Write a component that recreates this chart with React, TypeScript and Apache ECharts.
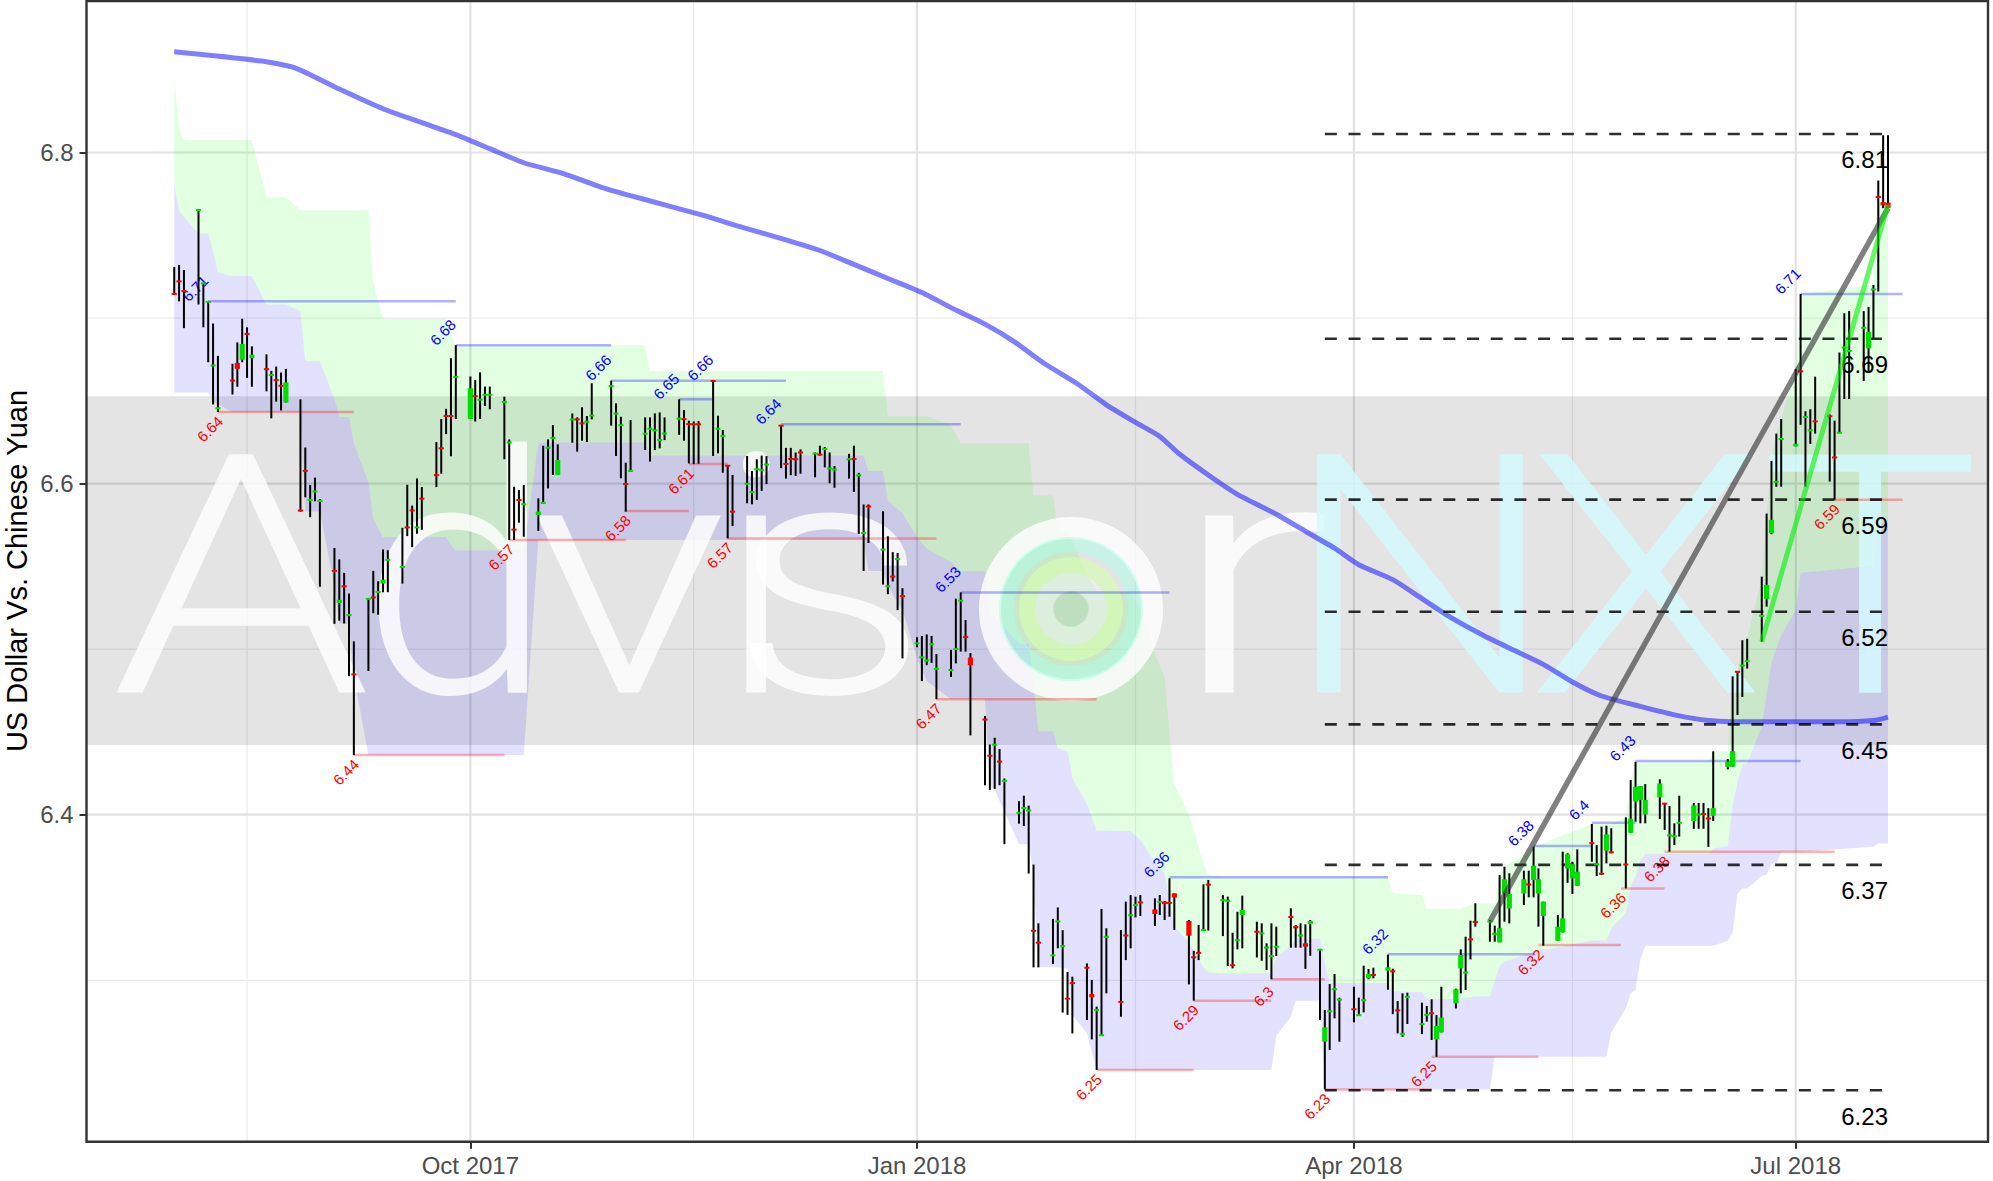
import React, { useEffect, useRef } from 'react';
import * as echarts from 'echarts';

const DAY = 86400000;
const FONT = '"Liberation Sans", Arial, Helvetica, sans-serif';

// ---- trading calendar (weekdays) ----
const FIRST_TRADING_DAY = '2017-08-02';
const LAST_WEEKDAY = '2018-07-20';
const EXTRA_DAYS = ['2018-07-21'];
// the reference plots summer-time rows one day early
const WINTER_START = '2017-10-29';
const WINTER_END = '2018-03-25';

// ---- OHLC (one line per week) ----
const OPEN = [
  6.7150, 6.7225, 6.7168,
  6.7650, 6.7205, 6.7095, 6.6710, 6.6452,
  6.6625, 6.6729, 6.6748, 6.6908, 6.6757,
  6.6694, 6.6652, 6.6630, 6.6594, 6.6490,
  6.5840, 6.6080, 6.5900, 6.5950, 6.5892,
  6.5476, 6.5279, 6.5382, 6.5203, 6.4850,
  6.5300, 6.5315, 6.5343, 6.5396, 6.5537,
  6.5494, 6.5738, 6.5840, 6.5733, 6.5912,
  6.6053, 6.6215, 6.6410, 6.6412, 6.6642,
  6.6390, 6.6530, 6.6505, 6.6535, 6.6535,
  6.6487, 6.6246, 6.5728, 6.5903, 6.5874,
  6.5811, 6.5881, 6.6215, 6.6274, 6.6052,
  6.6386, 6.6390, 6.6366, 6.6372, 6.6410,
  6.6588, 6.6422, 6.6352, 6.5998, 6.6076,
  6.6300, 6.6330, 6.6320, 6.6262, 6.6302,
  6.6392, 6.6390, 6.6362, 6.6360, 6.6361,
  6.6622, 6.6330, 6.6286, 6.6110, 6.5832,
  6.5998, 6.5948, 6.6086, 6.6082, 6.6114,
  6.6352, 6.6120, 6.6150, 6.6149, 6.6190,
  6.6180, 6.6176, 6.6208, 6.6090, 6.6084,
  6.6146, 6.6150, 6.6049, 6.5700, 6.5864,
  6.5600, 6.5379, 6.5440, 6.5543, 6.5322,
  6.5030, 6.4950, 6.4925, 6.5029, 6.4880,
  6.4873, 6.5000, 6.5292, 6.5074, 6.4949,
  6.4577, 6.4358, 6.4422, 6.4322, 6.4203,
  6.4010, 6.4039, 6.4025, 6.3300, 6.3228,
  6.3150, 6.3355, 6.3205, 6.2890, 6.2985,
  6.3078, 6.2917, 6.2817, 6.2665, 6.3261,
  6.2871, 6.3273, 6.3392, 6.3453, 6.3472,
  6.3428, 6.3473, 6.3475, 6.3470, 6.3525,
  6.3358, 6.3140, 6.3168, 6.3302, 6.3580,
  6.3483, 6.3478, 6.3092, 6.3241, 6.3394,
  6.3296, 6.3282, 6.3196, 6.3145, 6.3201,
  6.3384, 6.3328, 6.3270, 6.3223, 6.3340,
  6.3180, 6.2629, 6.2810, 6.2945, 6.2882,
  6.2830, 6.2788, 6.2878, 6.3012, 6.3034,
  6.3058, 6.3056, 6.2820, 6.2675, 6.2899,
  6.2734, 6.2790, 6.2802, 6.2643, 6.2685,
  6.2861, 6.3072, 6.3046, 6.3249, 6.3354,
  6.3354, 6.3280, 6.3229, 6.3525, 6.3434,
  6.3525, 6.3580, 6.3606, 6.3525, 6.3388,
  6.3239, 6.3289, 6.3676, 6.3616, 6.3571,
  6.3830, 6.3700, 6.3646, 6.3783, 6.3775,
  6.3700, 6.3891, 6.4079, 6.4089, 6.4002,
  6.4105, 6.4069, 6.3874, 6.3869, 6.3950,
  6.3962, 6.4000, 6.4006, 6.3980, 6.3993,
  6.4290, 6.4290, 6.4867, 6.4900, 6.4925,
  6.5200, 6.5304, 6.5700, 6.6009, 6.6268,
  6.6225, 6.6680, 6.6400, 6.6322, 6.6377,
  6.6408, 6.6160, 6.6305, 6.6820, 6.6800,
  6.6940, 6.6817, 6.7170, 6.7735, 6.7700, 6.7697,
];
const HIGH = [
  6.7309, 6.7321, 6.7290,
  6.7655, 6.7213, 6.7101, 6.6967, 6.6772,
  6.6724, 6.6853, 6.6996, 6.6944, 6.6829,
  6.6781, 6.6681, 6.6707, 6.6671, 6.6693,
  6.6509, 6.6218, 6.5991, 6.6036, 6.5907,
  6.5611, 6.5542, 6.5461, 6.5336, 6.5047,
  6.5308, 6.5473, 6.5410, 6.5602, 6.5597,
  6.5733, 6.5993, 6.5867, 6.6031, 6.5979,
  6.6251, 6.6390, 6.6452, 6.6757, 6.6836,
  6.6647, 6.6626, 6.6672, 6.6586, 6.6586,
  6.6525, 6.6267, 6.5981, 6.5961, 6.5991,
  6.5911, 6.6229, 6.6267, 6.6354, 6.6237,
  6.6424, 6.6400, 6.6461, 6.6408, 6.6606,
  6.6622, 6.6485, 6.6404, 6.6126, 6.6384,
  6.6400, 6.6400, 6.6424, 6.6430, 6.6400,
  6.6509, 6.6445, 6.6380, 6.6376, 6.6378,
  6.6622, 6.6410, 6.6324, 6.6110, 6.6052,
  6.6167, 6.6076, 6.6147, 6.6169, 6.6166,
  6.6352, 6.6216, 6.6216, 6.6188, 6.6207,
  6.6188, 6.6229, 6.6221, 6.6188, 6.6106,
  6.6180, 6.6229, 6.6065, 6.5874, 6.5874,
  6.5833, 6.5682, 6.5586, 6.5581, 6.5368,
  6.5072, 6.5080, 6.5089, 6.5080, 6.4971,
  6.4996, 6.5305, 6.5343, 6.5176, 6.4976,
  6.4596, 6.4424, 6.4465, 6.4397, 6.4219,
  6.4082, 6.4115, 6.4055, 6.3699, 6.3344,
  6.3371, 6.3440, 6.3303, 6.3050, 6.3022,
  6.3102, 6.3002, 6.2841, 6.3431, 6.3314,
  6.3304, 6.3475, 6.3515, 6.3505, 6.3515,
  6.3495, 6.3515, 6.3479, 6.3616, 6.3525,
  6.3364, 6.3178, 6.3334, 6.3580, 6.3606,
  6.3515, 6.3505, 6.3287, 6.3414, 6.3511,
  6.3354, 6.3344, 6.3223, 6.3344, 6.3324,
  6.3435, 6.3334, 6.3344, 6.3338, 6.3364,
  6.3189, 6.2820, 6.2977, 6.3038, 6.2895,
  6.2961, 6.2895, 6.3088, 6.3068, 6.3076,
  6.3155, 6.3070, 6.2875, 6.2921, 6.2925,
  6.2865, 6.2845, 6.2885, 6.2790, 6.2961,
  6.2949, 6.3187, 6.3263, 6.3360, 6.3465,
  6.3364, 6.3330, 6.3636, 6.3686, 6.3646,
  6.3662, 6.3662, 6.3807, 6.3676, 6.3475,
  6.3394, 6.3777, 6.3767, 6.3716, 6.3791,
  6.3944, 6.3817, 6.3928, 6.3934, 6.3918,
  6.3984, 6.4210, 6.4320, 6.4173, 6.4185,
  6.4214, 6.4069, 6.4053, 6.3948, 6.4115,
  6.4071, 6.4071, 6.4071, 6.4040, 6.4383,
  6.4336, 6.4836, 6.4867, 6.5054, 6.5063,
  6.5438, 6.5819, 6.6137, 6.6302, 6.6390,
  6.6693, 6.7145, 6.6437, 6.6449, 6.6646,
  6.6418, 6.6380, 6.6792, 6.7029, 6.7042,
  6.7042, 6.7067, 6.7200, 6.7831, 6.8104, 6.8104,
];
const LOW = [
  6.7142, 6.7101, 6.6939,
  6.7082, 6.6944, 6.6733, 6.6478, 6.6433,
  6.6538, 6.6585, 6.6733, 6.6638, 6.6585,
  6.6557, 6.6394, 6.6495, 6.6442, 6.6490,
  6.5831, 6.5917, 6.5797, 6.5893, 6.5377,
  6.5153, 6.5172, 6.5155, 6.4837, 6.4360,
  6.4868, 6.5217, 6.5208, 6.5344, 6.5344,
  6.5396, 6.5683, 6.5616, 6.5697, 6.5721,
  6.5979, 6.6060, 6.6299, 6.6165, 6.6390,
  6.6390, 6.6375, 6.6390, 6.6469, 6.6449,
  6.6147, 6.5659, 6.5659, 6.5764, 6.5679,
  6.5714, 6.5881, 6.5971, 6.6052, 6.6052,
  6.6247, 6.6193, 6.6259, 6.6251, 6.6388,
  6.6350, 6.6167, 6.6032, 6.5830, 6.6072,
  6.6203, 6.6133, 6.6203, 6.6213, 6.6263,
  6.6294, 6.6259, 6.6122, 6.6118, 6.6120,
  6.6167, 6.6183, 6.6066, 6.5669, 6.5744,
  6.5881, 6.5875, 6.5901, 6.5956, 6.5997,
  6.6093, 6.6030, 6.6051, 6.6046, 6.6060,
  6.6038, 6.6169, 6.6098, 6.6002, 6.5975,
  6.6030, 6.5950, 6.5696, 6.5472, 6.5641,
  6.5390, 6.5332, 6.5409, 6.5236, 6.4944,
  6.5012, 6.4807, 6.4903, 6.4917, 6.4698,
  6.4832, 6.4914, 6.4985, 6.4985, 6.4479,
  6.4178, 6.4150, 6.4156, 6.4178, 6.3822,
  6.3946, 6.3932, 6.3645, 6.3078, 6.3078,
  6.3098, 6.3193, 6.2805, 6.2791, 6.2679,
  6.2760, 6.2643, 6.2458, 6.2665, 6.2921,
  6.2780, 6.3122, 6.3193, 6.3380, 6.3388,
  6.3328, 6.3394, 6.3364, 6.3384, 6.3304,
  6.2975, 6.2877, 6.3122, 6.3300, 6.3300,
  6.3267, 6.3086, 6.3072, 6.3187, 6.3193,
  6.3138, 6.3118, 6.3062, 6.3006, 6.3147,
  6.3197, 6.3197, 6.3197, 6.3068, 6.3148,
  6.2760, 6.2341, 6.2579, 6.2770, 6.2629,
  6.2746, 6.2788, 6.2806, 6.3006, 6.3012,
  6.2943, 6.2795, 6.2679, 6.2657, 6.2736,
  6.2675, 6.2750, 6.2639, 6.2538, 6.2685,
  6.2830, 6.2921, 6.2941, 6.3126, 6.3324,
  6.3233, 6.3233, 6.3229, 6.3354, 6.3344,
  6.3455, 6.3501, 6.3501, 6.3324, 6.3209,
  6.3239, 6.3289, 6.3589, 6.3521, 6.3571,
  6.3716, 6.3630, 6.3636, 6.3706, 6.3767,
  6.3555, 6.3891, 6.3958, 6.3948, 6.3948,
  6.3974, 6.3908, 6.3777, 6.3817, 6.3868,
  6.3915, 6.3915, 6.3915, 6.3806, 6.3962,
  6.4274, 6.4290, 6.4602, 6.4711, 6.4883,
  6.5045, 6.5257, 6.5694, 6.5981, 6.5981,
  6.6225, 6.6355, 6.5981, 6.6240, 6.6302,
  6.6012, 6.5903, 6.6305, 6.6511, 6.6511,
  6.6620, 6.6677, 6.6880, 6.7160, 6.7664, 6.7664,
];
const CLOSE = [
  6.7142, 6.7218, 6.7158,
  6.7655, 6.7213, 6.7101, 6.6717, 6.6459,
  6.6620, 6.6693, 6.6843, 6.6900, 6.6779,
  6.6688, 6.6660, 6.6622, 6.6588, 6.6612,
  6.5834, 6.6074, 6.5902, 6.5955, 6.5898,
  6.5470, 6.5298, 6.5377, 6.5208, 6.4845,
  6.5308, 6.5310, 6.5348, 6.5420, 6.5542,
  6.5499, 6.5733, 6.5836, 6.5738, 6.5907,
  6.6050, 6.6211, 6.6406, 6.6404, 6.6647,
  6.6576, 6.6526, 6.6509, 6.6537, 6.6538,
  6.6499, 6.6251, 6.5716, 6.5899, 6.5877,
  6.5831, 6.5885, 6.6219, 6.6278, 6.6143,
  6.6388, 6.6386, 6.6362, 6.6376, 6.6412,
  6.6590, 6.6424, 6.6354, 6.5996, 6.6078,
  6.6302, 6.6332, 6.6322, 6.6264, 6.6304,
  6.6394, 6.6388, 6.6357, 6.6356, 6.6356,
  6.6618, 6.6332, 6.6288, 6.6106, 6.5830,
  6.6000, 6.5950, 6.6088, 6.6084, 6.6116,
  6.6348, 6.6118, 6.6148, 6.6145, 6.6186,
  6.6183, 6.6174, 6.6210, 6.6092, 6.6086,
  6.6148, 6.6146, 6.6051, 6.5702, 6.5860,
  6.5603, 6.5381, 6.5436, 6.5545, 6.5318,
  6.5040, 6.4952, 6.4938, 6.5031, 6.4882,
  6.4875, 6.5002, 6.5294, 6.5072, 6.4903,
  6.4573, 6.4354, 6.4424, 6.4320, 6.4205,
  6.4012, 6.4041, 6.4027, 6.3298, 6.3226,
  6.3152, 6.3357, 6.3207, 6.2887, 6.2981,
  6.3074, 6.2897, 6.2826, 6.2671, 6.3263,
  6.2867, 6.3269, 6.3394, 6.3455, 6.3469,
  6.3400, 6.3475, 6.3460, 6.3465, 6.3500,
  6.3269, 6.3138, 6.3163, 6.3304, 6.3575,
  6.3485, 6.3481, 6.3090, 6.3243, 6.3424,
  6.3290, 6.3284, 6.3199, 6.3147, 6.3203,
  6.3380, 6.3314, 6.3272, 6.3203, 6.3358,
  6.3189, 6.2716, 6.2816, 6.2947, 6.2885,
  6.2820, 6.2790, 6.2881, 6.3038, 6.3030,
  6.3078, 6.3052, 6.2816, 6.2677, 6.2901,
  6.2736, 6.2792, 6.2800, 6.2724, 6.2774,
  6.2945, 6.3153, 6.3048, 6.3245, 6.3350,
  6.3356, 6.3282, 6.3315, 6.3610, 6.3521,
  6.3610, 6.3578, 6.3692, 6.3610, 6.3475,
  6.3324, 6.3374, 6.3761, 6.3702, 6.3656,
  6.3827, 6.3702, 6.3642, 6.3881, 6.3771,
  6.3698, 6.3976, 6.4169, 6.4173, 6.4089,
  6.4189, 6.4065, 6.3877, 6.3871, 6.3952,
  6.4056, 6.4002, 6.4003, 6.3975, 6.4040,
  6.4321, 6.4383, 6.4860, 6.4903, 6.4930,
  6.5203, 6.5388, 6.5781, 6.6012, 6.6271,
  6.6240, 6.6677, 6.6405, 6.6324, 6.6374,
  6.6405, 6.6156, 6.6309, 6.6823, 6.6802,
  6.6942, 6.6917, 6.7176, 6.7728, 6.7680, 6.7664,
];

// ---- channel ribbon (axis dates, as drawn) ----
const RIB_DATES = [
  '2017-08-01', '2017-08-02', '2017-08-03', '2017-08-06', '2017-08-08', '2017-08-09', '2017-08-10', '2017-08-13',
  '2017-08-17', '2017-08-20', '2017-08-24', '2017-08-27', '2017-08-28', '2017-08-31', '2017-09-03', '2017-09-04',
  '2017-09-06', '2017-09-07', '2017-09-10', '2017-09-11', '2017-09-12', '2017-09-13', '2017-09-26', '2017-09-27',
  '2017-09-28', '2017-10-12', '2017-10-15', '2017-11-06', '2017-11-07', '2017-12-21', '2017-12-22', '2017-12-25',
  '2017-12-26', '2017-12-27', '2017-12-29', '2018-01-01', '2018-01-03', '2018-01-08', '2018-01-10', '2018-01-15',
  '2018-01-16', '2018-01-17', '2018-01-22', '2018-01-24', '2018-01-25', '2018-01-26', '2018-01-29', '2018-01-30',
  '2018-02-01', '2018-02-02', '2018-02-05', '2018-02-07', '2018-02-14', '2018-02-16', '2018-02-19', '2018-02-21',
  '2018-02-22', '2018-02-23', '2018-02-26', '2018-02-28', '2018-03-01', '2018-03-02', '2018-03-05', '2018-03-15',
  '2018-03-16', '2018-03-19', '2018-03-20', '2018-03-25', '2018-03-26', '2018-03-27', '2018-04-08', '2018-04-09',
  '2018-04-15', '2018-04-16', '2018-04-23', '2018-04-26', '2018-04-29', '2018-04-30', '2018-05-01', '2018-05-02',
  '2018-05-08', '2018-05-20', '2018-05-23', '2018-05-24', '2018-05-27', '2018-05-28', '2018-05-29', '2018-05-30',
  '2018-05-31', '2018-06-13', '2018-06-14', '2018-06-17', '2018-06-18', '2018-06-19', '2018-06-20', '2018-06-21',
  '2018-06-24', '2018-06-25', '2018-06-26', '2018-06-27', '2018-06-28', '2018-07-01', '2018-07-02', '2018-07-17',
  '2018-07-18', '2018-07-20',
];
const RIB_UPPER = [
  6.844, 6.815, 6.8075, 6.8075, 6.8075, 6.8075, 6.8075, 6.8075,
  6.8075, 6.773, 6.773, 6.765, 6.765, 6.765, 6.765, 6.765,
  6.765, 6.765, 6.7655, 6.7213, 6.7101, 6.6996, 6.6996, 6.690,
  6.6836, 6.6836, 6.6836, 6.6836, 6.668, 6.668, 6.668, 6.668,
  6.6407, 6.6407, 6.6407, 6.6407, 6.6407, 6.6353, 6.6243, 6.6243,
  6.6243, 6.6243, 6.6243, 6.6243, 6.5928, 6.5928, 6.5928, 6.5723,
  6.5698, 6.5650, 6.5450, 6.5350, 6.5343, 6.5236, 6.4970, 6.4834,
  6.4500, 6.4188, 6.4000, 6.3806, 6.3700, 6.3637, 6.3626, 6.3626,
  6.3626, 6.3626, 6.3626, 6.3626, 6.3626, 6.3626, 6.3626, 6.3525,
  6.3515, 6.3434, 6.3434, 6.3465, 6.3465, 6.3465, 6.3636, 6.3686,
  6.3807, 6.3944, 6.3944, 6.3944, 6.3984, 6.4210, 6.4320, 6.4320,
  6.4320, 6.4320, 6.4383, 6.4383, 6.4836, 6.4867, 6.5054, 6.5063,
  6.5438, 6.5819, 6.6137, 6.6302, 6.6390, 6.6693, 6.7145, 6.7200,
  6.7700, 6.7700,
];
const RIB_MID = [
  6.780, 6.765, 6.761, 6.751, 6.751, 6.7404, 6.7277, 6.7254,
  6.7254, 6.7082, 6.7082, 6.7042, 6.6741, 6.6741, 6.6514, 6.6402,
  6.6402, 6.6244, 6.6008, 6.5787, 6.5731, 6.5678, 6.5678, 6.5630,
  6.5598, 6.5598, 6.6248, 6.6248, 6.6170, 6.6170, 6.6076, 6.6076,
  6.5899, 6.5870, 6.5822, 6.5676, 6.5607, 6.5526, 6.5471, 6.5471,
  6.5211, 6.5197, 6.5033, 6.5033, 6.4787, 6.4503, 6.4503, 6.4401,
  6.4384, 6.4221, 6.4065, 6.3904, 6.3901, 6.3847, 6.3714, 6.3646,
  6.3479, 6.3323, 6.3229, 6.3132, 6.3079, 6.3048, 6.3042, 6.3042,
  6.3146, 6.3203, 6.3252, 6.3252, 6.3100, 6.2984, 6.2984, 6.2933,
  6.2928, 6.2888, 6.2888, 6.2903, 6.2903, 6.3002, 6.3087, 6.3112,
  6.3173, 6.3241, 6.3241, 6.3315, 6.3407, 6.3566, 6.3631, 6.3723,
  6.3765, 6.3765, 6.3796, 6.3811, 6.4063, 6.4194, 6.4305, 6.4309,
  6.4534, 6.4728, 6.4922, 6.5004, 6.5084, 6.5235, 6.5461, 6.5503,
  6.5763, 6.5763,
];
const RIB_LOWER = [
  6.655, 6.655, 6.655, 6.655, 6.655, 6.650, 6.6478, 6.6433,
  6.6433, 6.6433, 6.6433, 6.6433, 6.5831, 6.5831, 6.5377, 6.5153,
  6.5153, 6.4837, 6.4360, 6.4360, 6.4360, 6.4360, 6.4360, 6.4360,
  6.4360, 6.4360, 6.5659, 6.5659, 6.5659, 6.5659, 6.5472, 6.5472,
  6.5390, 6.5332, 6.5236, 6.4944, 6.4807, 6.4698, 6.4698, 6.4698,
  6.4178, 6.4150, 6.3822, 6.3822, 6.3645, 6.3078, 6.3078, 6.3078,
  6.3070, 6.2791, 6.2679, 6.2458, 6.2458, 6.2458, 6.2458, 6.2458,
  6.2458, 6.2458, 6.2458, 6.2458, 6.2458, 6.2458, 6.2458, 6.2458,
  6.2665, 6.2780, 6.2877, 6.2877, 6.2341, 6.2341, 6.2341, 6.2341,
  6.2341, 6.2341, 6.2341, 6.2341, 6.2341, 6.2538, 6.2538, 6.2538,
  6.2538, 6.2538, 6.2538, 6.2685, 6.2830, 6.2921, 6.2941, 6.3126,
  6.3209, 6.3209, 6.3209, 6.3239, 6.3289, 6.3521, 6.3555, 6.3555,
  6.3630, 6.3636, 6.3706, 6.3706, 6.3777, 6.3777, 6.3777, 6.3806,
  6.3826, 6.3826,
];

// ---- long moving average (axis dates) ----
const MA_DATES = [
  '2017-08-01', '2017-08-19', '2017-08-26', '2017-09-04', '2017-09-13', '2017-09-21', '2017-09-28', '2017-10-05',
  '2017-10-12', '2017-10-20', '2017-10-28', '2017-11-03', '2017-11-10', '2017-11-18', '2017-11-25', '2017-12-05',
  '2017-12-12', '2017-12-19', '2017-12-26', '2018-01-02', '2018-01-09', '2018-01-15', '2018-01-21', '2018-01-27',
  '2018-02-03', '2018-02-09', '2018-02-15', '2018-02-20', '2018-02-24', '2018-03-02', '2018-03-08', '2018-03-16',
  '2018-03-22', '2018-03-28', '2018-04-02', '2018-04-09', '2018-04-15', '2018-04-21', '2018-04-28', '2018-05-04',
  '2018-05-10', '2018-05-16', '2018-05-22', '2018-05-30', '2018-06-06', '2018-06-13', '2018-06-20', '2018-06-30',
  '2018-07-10', '2018-07-17', '2018-07-20',
];
const MA_VALUES = [
  6.8608, 6.8552, 6.8510, 6.8383, 6.8264, 6.8180, 6.8108, 6.8023,
  6.7938, 6.7874, 6.7790, 6.7739, 6.7684, 6.7620, 6.7557, 6.7472,
  6.7408, 6.7324, 6.7239, 6.7154, 6.7048, 6.6963, 6.6858, 6.6730,
  6.6603, 6.6476, 6.6370, 6.6285, 6.6180, 6.6052, 6.5935, 6.5815,
  6.5712, 6.5610, 6.5510, 6.5420, 6.5305, 6.5190, 6.5078, 6.4993,
  6.4908, 6.4802, 6.4717, 6.4654, 6.4603, 6.4569, 6.4561, 6.4561,
  6.4561, 6.4569, 6.4590,
];

// ---- support (red) and resistance (blue) levels ----
const SUP_START = ['2017-08-10', '2017-09-07', '2017-10-09', '2017-11-02', '2017-11-15', '2017-11-23', '2018-01-05', '2018-02-07',
  '2018-02-27', '2018-03-15', '2018-03-26', '2018-04-17', '2018-05-09', '2018-05-26', '2018-06-04', '2018-07-09'];
const SUP_END = ['2017-09-07', '2017-10-08', '2017-11-02', '2017-11-15', '2017-11-23', '2018-01-05', '2018-02-07', '2018-02-27',
  '2018-03-15', '2018-03-26', '2018-04-17', '2018-05-09', '2018-05-26', '2018-06-04', '2018-07-09', '2018-07-23'];
const SUP_VALUE = [6.6433, 6.4360, 6.5659, 6.5834, 6.6118, 6.5669, 6.4698, 6.2458,
  6.2877, 6.3006, 6.2341, 6.2538, 6.3213, 6.3555, 6.3776, 6.5903];
const SUP_LABEL = ['6.64', '6.44', '6.57', '6.58', '6.61', '6.57', '6.47', '6.25',
  '6.29', '6.3', '6.23', '6.25', '6.32', '6.36', '6.38', '6.59'];

const RES_START = ['2017-08-08', '2017-09-28', '2017-10-30', '2017-11-13', '2017-11-20', '2017-12-04', '2018-01-10',
  '2018-02-22', '2018-04-08', '2018-05-08', '2018-05-20', '2018-05-29', '2018-07-02'];
const RES_END = ['2017-09-28', '2017-10-30', '2017-11-20', '2017-11-20', '2017-12-05', '2018-01-10', '2018-02-22',
  '2018-04-08', '2018-05-08', '2018-05-20', '2018-05-29', '2018-07-02', '2018-07-23'];
const RES_VALUE = [6.7101, 6.6836, 6.6622, 6.6509, 6.6622, 6.6358, 6.5343,
  6.3622, 6.3157, 6.3811, 6.3952, 6.4324, 6.7145];
const RES_LABEL = ['6.71', '6.68', '6.66', '6.65', '6.66', '6.64', '6.53',
  '6.36', '6.32', '6.38', '6.4', '6.43', '6.71'];

// ---- retracement levels ----
const FIB_START = '2018-03-26';
const FIB_END = '2018-07-19';
const FIB_LABEL_DATE = '2018-07-20';
const FIB_VALUE = [6.8112, 6.6875, 6.5903, 6.5226, 6.4546, 6.3697, 6.2336];
const FIB_LABEL = ['6.81', '6.69', '6.59', '6.52', '6.45', '6.37', '6.23'];

// ---- trend lines ----
const TREND_GRAY_DATES = ['2018-04-29', '2018-07-20'];
const TREND_GRAY_VALUES = [6.3356, 6.7664];
const TREND_GREEN_DATES = ['2018-06-24', '2018-07-20'];
const TREND_GREEN_VALUES = [6.5045, 6.7685];

// ---- shaded band ----
const BAND = [6.4421, 6.6527];

// ---- axes ----
const X_TICKS = ['2017-10-01', '2018-01-01', '2018-04-01', '2018-07-01'];
const X_MINOR = ['2017-08-16', '2017-11-16', '2018-02-15', '2018-05-16'];
const Y_TICKS = [6.4, 6.6, 6.8];
const Y_MINOR = [6.3, 6.5, 6.7];
const Y_MIN = 6.2025;
const Y_MAX = 6.8915;
const AXIS_ORIGIN = '2017-10-01';
const X_MIN_OFFSET_DAYS = -79.07;
const X_MAX_OFFSET_DAYS = 312.6;
const MONTHS = ['Jan', 'Feb', 'Mar', 'Apr', 'May', 'Jun', 'Jul', 'Aug', 'Sep', 'Oct', 'Nov', 'Dec'];

// ---- watermark letters: [char, centre x, horizontal stretch, colour key] ----
const WM_LETTERS: [string, number, number, number][] = [
  ['A', 241, 1.25, 0], ['d', 457, 1.04, 0], ['v', 629, 1.24, 0], ['i', 756, 1.0, 0], ['s', 830, 1.18, 0],
  ['r', 1250, 1.45, 0], ['N', 1420, 1.16, 1], ['X', 1646, 1.17, 1], ['T', 1870, 1.1, 1],
];

function toTime(s: string): number {
  const [y, m, d] = s.split('-').map(Number);
  return Date.UTC(y, m - 1, d);
}
function tradingDays(): string[] {
  const out: string[] = [];
  const end = toTime(LAST_WEEKDAY);
  for (let t = toTime(FIRST_TRADING_DAY); t <= end; t += DAY) {
    const wd = new Date(t).getUTCDay();
    if (wd !== 0 && wd !== 6) out.push(new Date(t).toISOString().slice(0, 10));
  }
  return out.concat(EXTRA_DAYS);
}
function plotTime(s: string): number {
  const t = toTime(s);
  if (t < toTime(WINTER_START) || t >= toTime(WINTER_END)) return t - DAY;
  return t;
}

const GREEN = '#00dd00';
const RED = '#ff0000';

function buildOption() {
  const dates = tradingDays();
  const n = Math.min(dates.length, OPEN.length, HIGH.length, LOW.length, CLOSE.length);
  const candles: number[][] = [];
  for (let i = 0; i < n; i++) candles.push([plotTime(dates[i]), OPEN[i], CLOSE[i], LOW[i], HIGH[i]]);

  const origin = toTime(AXIS_ORIGIN);
  const xMin = origin + X_MIN_OFFSET_DAYS * DAY;
  const xMax = origin + X_MAX_OFFSET_DAYS * DAY;

  const levelData: number[][] = [];
  const levelLabels: string[] = [];
  const levelKind: number[] = [];
  SUP_START.forEach((s, i) => {
    levelData.push([toTime(s), toTime(SUP_END[i]), SUP_VALUE[i]]);
    levelLabels.push(SUP_LABEL[i]);
    levelKind.push(0);
  });
  RES_START.forEach((s, i) => {
    levelData.push([toTime(s), toTime(RES_END[i]), RES_VALUE[i]]);
    levelLabels.push(RES_LABEL[i]);
    levelKind.push(1);
  });

  const fibData = FIB_VALUE.map((v) => [toTime(FIB_START), toTime(FIB_END), v, toTime(FIB_LABEL_DATE)]);

  const gridSeries = {
    type: 'custom',
    z: 1,
    silent: true,
    data: [[xMin, Y_MIN]],
    renderItem: (params: any, api: any) => {
      const cs = params.coordSys;
      const children: any[] = [];
      const vline = (t: number, w: number, c: string) => {
        const x = api.coord([t, Y_MIN])[0];
        children.push({ type: 'line', shape: { x1: x, y1: cs.y, x2: x, y2: cs.y + cs.height }, style: { stroke: c, lineWidth: w } });
      };
      const hline = (v: number, w: number, c: string) => {
        const y = api.coord([xMin, v])[1];
        children.push({ type: 'line', shape: { x1: cs.x, y1: y, x2: cs.x + cs.width, y2: y }, style: { stroke: c, lineWidth: w } });
      };
      X_MINOR.forEach((d) => vline(toTime(d), 1.3, '#ececec'));
      Y_MINOR.forEach((v) => hline(v, 1.3, '#ececec'));
      X_TICKS.forEach((d) => vline(toTime(d), 2.2, '#e2e2e2'));
      Y_TICKS.forEach((v) => hline(v, 2.2, '#e2e2e2'));
      return { type: 'group', children };
    },
  };

  const bandSeries = {
    type: 'custom',
    z: 2,
    silent: true,
    data: [[xMin, BAND[0]]],
    renderItem: (params: any, api: any) => {
      const a = api.coord([xMin, BAND[1]]);
      const b = api.coord([xMax, BAND[0]]);
      return { type: 'rect', shape: { x: a[0], y: a[1], width: b[0] - a[0], height: b[1] - a[1] }, style: { fill: 'rgba(0,0,0,0.105)' } };
    },
  };

  const ribbonSeries = {
    type: 'custom',
    z: 3,
    silent: true,
    data: [[toTime(RIB_DATES[0]), RIB_MID[0]]],
    renderItem: (params: any, api: any) => {
      const pts = (vals: number[]) => RIB_DATES.map((d, i) => api.coord([toTime(d), vals[i]]));
      const up = pts(RIB_UPPER);
      const mid = pts(RIB_MID);
      const low = pts(RIB_LOWER);
      return {
        type: 'group',
        children: [
          { type: 'polygon', shape: { points: up.concat(mid.slice().reverse()) }, style: { fill: 'rgba(0,255,0,0.115)' } },
          { type: 'polygon', shape: { points: mid.concat(low.slice().reverse()) }, style: { fill: 'rgba(0,0,255,0.115)' } },
        ],
      };
    },
  };

  const maSeries = {
    type: 'line',
    z: 5,
    silent: true,
    showSymbol: false,
    smooth: 0.2,
    data: MA_DATES.map((d, i) => [toTime(d), MA_VALUES[i]]),
    lineStyle: { color: 'rgba(10,10,255,0.52)', width: 5 },
  };

  const levelSeries = {
    type: 'custom',
    z: 6,
    silent: true,
    data: levelData,
    renderItem: (params: any, api: any) => {
      const i = params.dataIndex;
      const v = api.value(2);
      const a = api.coord([api.value(0), v]);
      const b = api.coord([api.value(1), v]);
      const res = levelKind[i] === 1;
      const off = res ? [-13, -13] : [-8, 17];
      return {
        type: 'group',
        children: [
          { type: 'line', shape: { x1: a[0], y1: a[1], x2: b[0], y2: b[1] }, style: { stroke: res ? 'rgba(0,0,255,0.3)' : 'rgba(255,0,0,0.3)', lineWidth: 2.5 } },
          {
            type: 'text', x: a[0] + off[0], y: a[1] + off[1], rotation: Math.PI / 4,
            style: { text: levelLabels[i], fill: res ? '#0000ff' : '#ff0000', fontSize: 15, fontFamily: FONT, align: 'center', verticalAlign: 'middle' },
          },
        ],
      };
    },
  };

  const fibSeries = {
    type: 'custom',
    z: 6,
    silent: true,
    data: fibData,
    renderItem: (params: any, api: any) => {
      const i = params.dataIndex;
      const v = api.value(2);
      const a = api.coord([api.value(0), v]);
      const b = api.coord([api.value(1), v]);
      const c = api.coord([api.value(3), v]);
      return {
        type: 'group',
        children: [
          { type: 'line', shape: { x1: a[0], y1: a[1], x2: b[0], y2: b[1] }, style: { stroke: 'rgba(0,0,0,0.82)', lineWidth: 2.6, lineDash: [12, 11.7] } },
          { type: 'text', x: c[0], y: c[1] + 26, style: { text: FIB_LABEL[i], fill: '#000', fontSize: 24, fontFamily: FONT, align: 'right', verticalAlign: 'middle' } },
        ],
      };
    },
  };

  const candleSeries = {
    type: 'custom',
    z: 7,
    silent: true,
    data: candles,
    renderItem: (params: any, api: any) => {
      const x = api.value(0);
      const o = api.value(1), c = api.value(2), l = api.value(3), h = api.value(4);
      const pl = api.coord([x, l]);
      const ph = api.coord([x, h]);
      const po = api.coord([x, o]);
      const pc = api.coord([x, c]);
      let top = Math.min(po[1], pc[1]);
      let bot = Math.max(po[1], pc[1]);
      if (bot - top < 2) { const m = (top + bot) / 2; top = m - 1; bot = m + 1; }
      return {
        type: 'group',
        children: [
          { type: 'line', shape: { x1: pl[0], y1: pl[1], x2: ph[0], y2: ph[1] }, style: { stroke: '#000', lineWidth: 2 } },
          { type: 'rect', shape: { x: pl[0] - 2.6, y: top, width: 5.2, height: bot - top }, style: { fill: c >= o ? GREEN : RED } },
        ],
      };
    },
  };

  const trendGray = {
    type: 'line', z: 8, silent: true, showSymbol: false,
    data: TREND_GRAY_DATES.map((d, i) => [toTime(d), TREND_GRAY_VALUES[i]]),
    lineStyle: { color: 'rgba(50,50,50,0.62)', width: 5.5 },
  };
  const trendGreen = {
    type: 'line', z: 8, silent: true, showSymbol: false,
    data: TREND_GREEN_DATES.map((d, i) => [toTime(d), TREND_GREEN_VALUES[i]]),
    lineStyle: { color: 'rgba(0,240,0,0.6)', width: 5 },
  };

  const wmColors = ['rgba(255,255,255,0.8)', 'rgba(212,250,255,0.82)'];
  const wmFont = 'Roboto, "Noto Sans", sans-serif';
  const letters = WM_LETTERS.map(([ch, x, sx, k]) => ({
    type: 'text', x, y: 578, scaleX: sx, z: 4, silent: true,
    style: { text: ch, fill: wmColors[k], fontSize: 335, fontWeight: 300, fontFamily: wmFont, align: 'center', verticalAlign: 'middle' },
  }));
  const cx = 1071, cy = 609;

  return {
    animation: false,
    backgroundColor: '#ffffff',
    grid: { left: 86.5, right: 5, top: 1, bottom: 39.3, show: true, borderColor: '#333333', borderWidth: 2.4, backgroundColor: 'transparent', z: 10 },
    xAxis: {
      type: 'value', min: xMin, max: xMax,
      axisLine: { show: false },
      splitLine: { show: false },
      axisTick: { show: true, customValues: X_TICKS.map(toTime), length: 7, lineStyle: { color: '#333', width: 2 } },
      axisLabel: {
        show: true, customValues: X_TICKS.map(toTime), margin: 12, color: '#4d4d4d', fontSize: 24, fontFamily: FONT,
        formatter: (v: number) => { const d = new Date(v); return MONTHS[d.getUTCMonth()] + ' ' + d.getUTCFullYear(); },
      },
    },
    yAxis: {
      type: 'value', min: Y_MIN, max: Y_MAX,
      axisLine: { show: false },
      splitLine: { show: false },
      axisTick: { show: true, customValues: Y_TICKS, length: 7, lineStyle: { color: '#333', width: 2 } },
      axisLabel: { show: true, customValues: Y_TICKS, margin: 13, color: '#4d4d4d', fontSize: 24, fontFamily: FONT, formatter: (v: number) => v.toFixed(1) },
    },
    graphic: {
      elements: [
        {
          type: 'text', x: 17, y: 571, rotation: Math.PI / 2, silent: true,
          style: { text: 'US Dollar Vs. Chinese Yuan', fill: '#000', fontSize: 29, fontFamily: FONT, align: 'center', verticalAlign: 'middle' },
        },
        ...letters,
        { type: 'ring', z: 4, silent: true, shape: { cx, cy, r: 92, r0: 70 }, style: { fill: wmColors[0] } },
        { type: 'ring', z: 4, silent: true, shape: { cx, cy, r: 72, r0: 57 }, style: { fill: 'rgba(170,255,230,0.5)' } },
        { type: 'ring', z: 4, silent: true, shape: { cx, cy, r: 52, r0: 36 }, style: { fill: 'rgba(215,255,175,0.6)' } },
        { type: 'ring', z: 4, silent: true, shape: { cx, cy, r: 36, r0: 18 }, style: { fill: 'rgba(255,255,255,0.35)' } },
        { type: 'circle', z: 4, silent: true, shape: { cx, cy, r: 17 }, style: { fill: 'rgba(150,200,150,0.25)' } },
      ],
    },
    series: [gridSeries, bandSeries, ribbonSeries, maSeries, levelSeries, fibSeries, candleSeries, trendGray, trendGreen],
  };
}

export default function App() {
  const ref = useRef<HTMLDivElement>(null);
  useEffect(() => {
    document.body.style.margin = '0';
    if (!ref.current) return;
    const chart = echarts.init(ref.current, null, { renderer: 'svg' });
    chart.setOption(buildOption() as any);
    return () => chart.dispose();
  }, []);
  return <div ref={ref} style={{ width: 1993, height: 1181 }} />;
}
